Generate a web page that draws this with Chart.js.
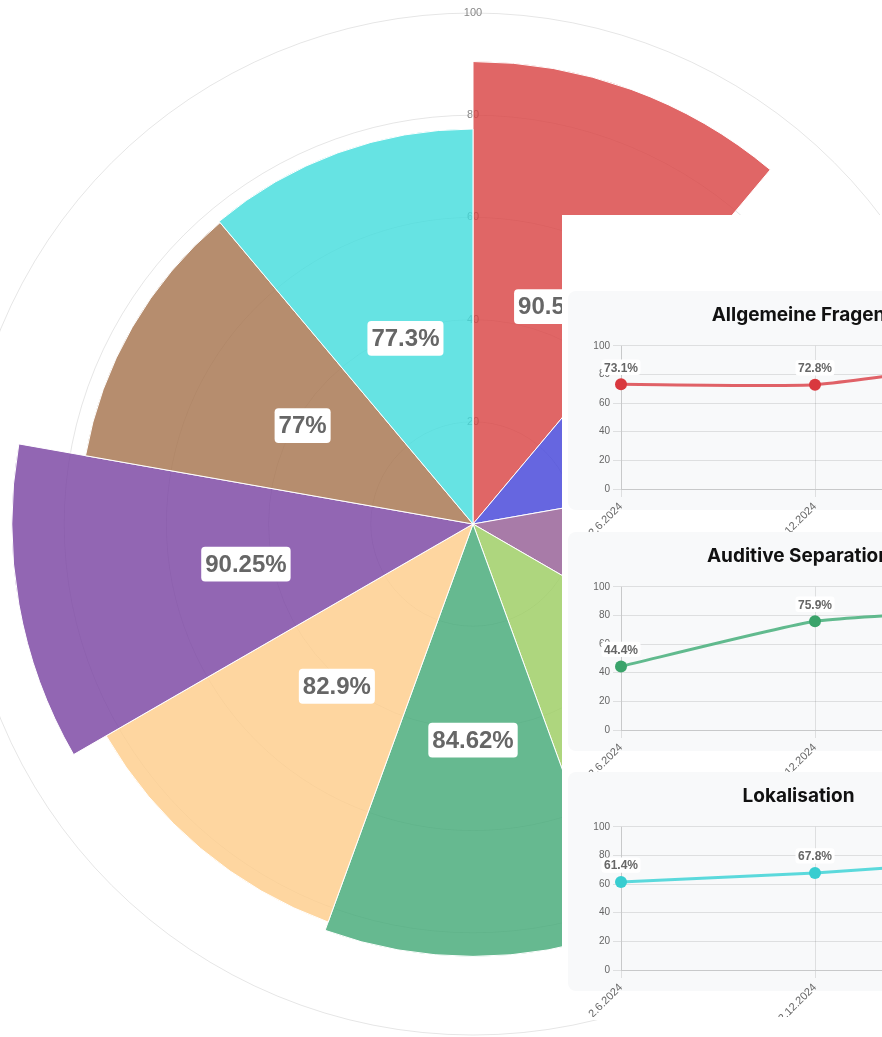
<!DOCTYPE html>
<html lang="de">
<head>
    <meta charset="UTF-8">
    <title>Auswertung Hörtest</title>
    <script src="https://cdn.jsdelivr.net/npm/chart.js"></script>
    <style>
        html, body { margin: 0; padding: 0; }
        body {
            width: 882px;
            height: 1037px;
            overflow: hidden;
            position: relative;
            background: #fff;
        }
        #polarWrap { position: absolute; left: -46px; top: 5px; width: 1038px; height: 1038px; }
        #panel {
            position: absolute;
            left: 562px;
            top: 215px;
            width: 520px;
            height: 805px;
            background: #fff;
        }
        .card {
            position: absolute;
            left: 6px;
            width: 464px;
            height: 219px;
            background: #f8f9fa;
            border-radius: 8px;
        }
        .card .cw { position: absolute; left: 0; top: 0; width: 460px; height: 245px; }
    </style>
</head>
<body>
    <div id="polarWrap"><canvas id="polarChart"></canvas></div>

    <div id="panel">
        <div class="card" style="top:76px"><div class="cw"><canvas id="lineA"></canvas></div></div>
        <div class="card" style="top:317px"><div class="cw"><canvas id="lineB"></canvas></div></div>
        <div class="card" style="top:557px"><div class="cw"><canvas id="lineC"></canvas></div></div>
    </div>

    <script>
        // Gesamtergebnis je Bereich (Polar)
        const bereiche = [
            'Allgemeine Fragen', 'Auditive Merkfähigkeit', 'Auditive Differenzierung',
            'Auditive Analyse', 'Auditive Separation', 'Phonologische Bewusstheit',
            'Richtungshören', 'Dichotisches Hören', 'Lokalisation'
        ];
        const ergebnisse = [90.5, 75, 76, 80, 84.62, 82.9, 90.25, 77, 77.3];
        const farben = [
            'rgba(216,64,64,0.8)', 'rgba(64,64,216,0.8)', 'rgba(146,90,146,0.8)',
            'rgba(154,204,94,0.8)', 'rgba(64,168,116,0.8)', 'rgba(254,204,136,0.8)',
            'rgba(119,64,160,0.8)', 'rgba(164,112,74,0.8)', 'rgba(64,220,220,0.8)'
        ];

        // Verlauf je Bereich (Linien)
        const termine = ['2.6.2024', '2.12.2024', '2.3.2025'];
        const allgemeineFragen = [73.1, 72.8, 90.5];
        const auditiveSeparation = [44.4, 75.9, 84.6];
        const lokalisation = [61.4, 67.8, 77.3];

        Chart.defaults.font.family = "'Liberation Sans', Arial, sans-serif";

        function boxLabel(ctx, text, x, y, fontSize, padX, padY, radius) {
            ctx.font = 'bold ' + fontSize + "px 'Liberation Sans', Arial, sans-serif";
            const w = ctx.measureText(text).width + padX * 2;
            const h = fontSize * 1.2 + padY * 2;
            ctx.fillStyle = '#fff';
            ctx.beginPath();
            ctx.roundRect(x - w / 2, y - h / 2, w, h, radius);
            ctx.fill();
            ctx.fillStyle = '#666';
            ctx.textAlign = 'center';
            ctx.textBaseline = 'middle';
            ctx.fillText(text, x, y + 1);
        }

        const polarLabelPlugin = {
            id: 'polarLabels',
            afterDatasetsDraw(chart) {
                const ctx = chart.ctx;
                const meta = chart.getDatasetMeta(0);
                ctx.save();
                meta.data.forEach((arc, i) => {
                    const p = arc.getCenterPoint();
                    boxLabel(ctx, chart.data.datasets[0].data[i] + '%', p.x, p.y, 24, 4, 3, 4);
                });
                ctx.restore();
            }
        };

        const lineLabelPlugin = {
            id: 'lineLabels',
            afterDatasetsDraw(chart) {
                const ctx = chart.ctx;
                const meta = chart.getDatasetMeta(0);
                ctx.save();
                meta.data.forEach((pt, i) => {
                    const v = chart.data.datasets[0].data[i];
                    boxLabel(ctx, v.toFixed(1) + '%', pt.x, pt.y - 17, 12, 2.5, 0.5, 3);
                });
                ctx.restore();
            }
        };

        new Chart(document.getElementById('polarChart'), {
            type: 'polarArea',
            data: {
                labels: bereiche,
                datasets: [{
                    data: ergebnisse,
                    backgroundColor: farben,
                    borderColor: '#fff',
                    borderWidth: 1
                }]
            },
            options: {
                responsive: true,
                maintainAspectRatio: false,
                animation: false,
                plugins: { legend: { display: false }, tooltip: { enabled: false } },
                scales: {
                    r: {
                        min: 0,
                        max: 100,
                        ticks: {
                            stepSize: 20,
                            showLabelBackdrop: false,
                            color: '#888',
                            font: { size: 11 }
                        },
                        grid: { color: 'rgba(0,0,0,0.1)' }
                    }
                }
            },
            plugins: [polarLabelPlugin]
        });

        function verlaufChart(id, titel, werte, linie, punkt) {
            return new Chart(document.getElementById(id), {
                type: 'line',
                data: {
                    labels: termine,
                    datasets: [{
                        data: werte,
                        borderColor: linie,
                        borderWidth: 3,
                        tension: 0.15,
                        pointRadius: 6,
                        pointBackgroundColor: punkt,
                        pointBorderColor: punkt,
                        pointBorderWidth: 0,
                        fill: false
                    }]
                },
                options: {
                    responsive: true,
                    maintainAspectRatio: false,
                    animation: false,
                    layout: { padding: { left: 20, right: 19, top: 0, bottom: 0 } },
                    plugins: {
                        legend: { display: false },
                        tooltip: { enabled: false },
                        title: {
                            display: true,
                            text: titel,
                            color: '#111',
                            font: { family: 'Inter', size: 19, weight: 'bold' },
                            padding: { top: 13, bottom: 19 }
                        }
                    },
                    scales: {
                        x: {
                            grid: { color: 'rgba(0,0,0,0.1)' },
                            ticks: { minRotation: 45, maxRotation: 45, color: '#666', font: { size: 11 } },
                            afterFit: s => { s.height = 47; }
                        },
                        y: {
                            min: 0,
                            max: 100,
                            grid: { color: 'rgba(0,0,0,0.1)' },
                            ticks: { stepSize: 20, color: '#666', font: { size: 10 } },
                            afterFit: s => { s.width = 33; }
                        }
                    }
                },
                plugins: [lineLabelPlugin]
            });
        }

        verlaufChart('lineA', 'Allgemeine Fragen', allgemeineFragen, 'rgba(220,70,76,0.85)', '#d9383e');
        verlaufChart('lineB', 'Auditive Separation', auditiveSeparation, 'rgba(70,175,122,0.85)', '#3aa36a');
        verlaufChart('lineC', 'Lokalisation', lokalisation, 'rgba(64,212,214,0.85)', '#38cdd0');
    </script>
</body>
</html>
